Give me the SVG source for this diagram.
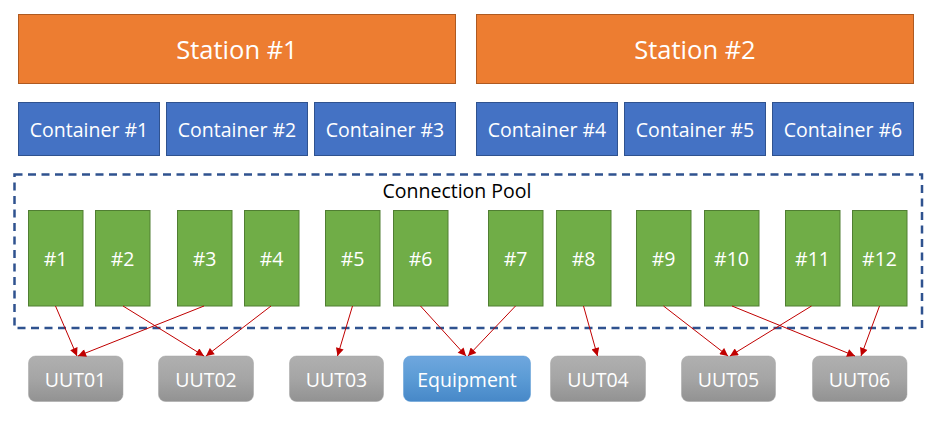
<svg xmlns="http://www.w3.org/2000/svg" width="938" height="426" viewBox="0 0 938 426">
<defs>
<linearGradient id="gGray" x1="0" y1="0" x2="0" y2="1"><stop offset="0" stop-color="#b0b0b0"/><stop offset="0.5" stop-color="#a5a5a5"/><stop offset="1" stop-color="#929292"/></linearGradient>
<linearGradient id="gBlue" x1="0" y1="0" x2="0" y2="1"><stop offset="0" stop-color="#6fa7de"/><stop offset="0.5" stop-color="#5b9bd5"/><stop offset="1" stop-color="#4788c8"/></linearGradient>
<marker id="arr" viewBox="0 0 10 10" refX="10" refY="5" markerWidth="9" markerHeight="8" markerUnits="userSpaceOnUse" orient="auto"><path d="M0,0 L10,5 L0,10 z" fill="#c00000"/></marker>
</defs>
<style>
text{font-family:"Open Sans","Noto Sans","Liberation Sans",sans-serif;text-anchor:middle;dominant-baseline:central;fill:#fff}
.st{fill:#ed7d31;stroke:#ae5a21;stroke-width:1}
.ct{fill:#4472c4;stroke:#2f528f;stroke-width:1}
.gr{fill:#70ad47;stroke:#507e32;stroke-width:1}
.uut{fill:url(#gGray);stroke:#a5a5a5;stroke-width:0.5}
.eq{fill:url(#gBlue);stroke:#5b9bd5;stroke-width:0.5}
.t22{font-size:25.5px}
.t18{font-size:19.5px}
.c{stroke:#c00000;stroke-width:1;fill:none;marker-end:url(#arr)}
</style>
<g id="station1"><rect class="st" x="18.5" y="14.5" width="437" height="69"/><text class="t22" x="237" y="49">Station #1</text></g>
<g id="station2"><rect class="st" x="476.5" y="14.5" width="437" height="69"/><text class="t22" x="695" y="49">Station #2</text></g>
<g id="container1"><rect class="ct" x="18.5" y="102.5" width="141" height="53"/><text class="t18" x="89" y="129">Container #1</text></g>
<g id="container2"><rect class="ct" x="166.5" y="102.5" width="141" height="53"/><text class="t18" x="237" y="129">Container #2</text></g>
<g id="container3"><rect class="ct" x="314.5" y="102.5" width="141" height="53"/><text class="t18" x="385" y="129">Container #3</text></g>
<g id="container4"><rect class="ct" x="476.5" y="102.5" width="141" height="53"/><text class="t18" x="547" y="129">Container #4</text></g>
<g id="container5"><rect class="ct" x="624.5" y="102.5" width="141" height="53"/><text class="t18" x="695" y="129">Container #5</text></g>
<g id="container6"><rect class="ct" x="772.5" y="102.5" width="141" height="53"/><text class="t18" x="843" y="129">Container #6</text></g>
<g id="pool"><rect x="14.5" y="174.5" width="907.5" height="153.5" fill="none" stroke="#2f528f" stroke-width="2.5" stroke-dasharray="8,5.5"/><text x="457" y="190" font-size="19.5px" style="fill:#000">Connection Pool</text></g>
<g id="c1"><rect class="gr" x="28.5" y="210.5" width="54.5" height="95.5"/><text class="t18" x="55.5" y="258">#1</text></g>
<g id="c2"><rect class="gr" x="95.5" y="210.5" width="54.5" height="95.5"/><text class="t18" x="122.5" y="258">#2</text></g>
<g id="c3"><rect class="gr" x="177.5" y="210.5" width="54.5" height="95.5"/><text class="t18" x="204.5" y="258">#3</text></g>
<g id="c4"><rect class="gr" x="244.5" y="210.5" width="54.5" height="95.5"/><text class="t18" x="271.5" y="258">#4</text></g>
<g id="c5"><rect class="gr" x="325.5" y="210.5" width="54.5" height="95.5"/><text class="t18" x="352.5" y="258">#5</text></g>
<g id="c6"><rect class="gr" x="393.5" y="210.5" width="54.5" height="95.5"/><text class="t18" x="420.5" y="258">#6</text></g>
<g id="c7"><rect class="gr" x="488.5" y="210.5" width="54.5" height="95.5"/><text class="t18" x="515.5" y="258">#7</text></g>
<g id="c8"><rect class="gr" x="556.5" y="210.5" width="54.5" height="95.5"/><text class="t18" x="583.5" y="258">#8</text></g>
<g id="c9"><rect class="gr" x="636.5" y="210.5" width="54.5" height="95.5"/><text class="t18" x="663.5" y="258">#9</text></g>
<g id="c10"><rect class="gr" x="704.5" y="210.5" width="54.5" height="95.5"/><text class="t18" x="731.5" y="258">#10</text></g>
<g id="c11"><rect class="gr" x="785.5" y="210.5" width="54.5" height="95.5"/><text class="t18" x="812.5" y="258">#11</text></g>
<g id="c12"><rect class="gr" x="852.5" y="210.5" width="54.5" height="95.5"/><text class="t18" x="879.5" y="258">#12</text></g>
<g id="uut01"><rect class="uut" x="28.5" y="356" width="94.5" height="45.5" rx="7"/><text class="t18" x="75.5" y="379">UUT01</text></g>
<g id="uut02"><rect class="uut" x="158.5" y="356" width="95" height="45.5" rx="7"/><text class="t18" x="206" y="379">UUT02</text></g>
<g id="uut03"><rect class="uut" x="289.5" y="356" width="94" height="45.5" rx="7"/><text class="t18" x="336.5" y="379">UUT03</text></g>
<g id="equipment"><rect class="eq" x="403.5" y="356" width="127" height="45.5" rx="7"/><text class="t18" x="467" y="379">Equipment</text></g>
<g id="uut04"><rect class="uut" x="550.5" y="356" width="95" height="45.5" rx="7"/><text class="t18" x="598" y="379">UUT04</text></g>
<g id="uut05"><rect class="uut" x="681.5" y="356" width="94" height="45.5" rx="7"/><text class="t18" x="728.5" y="379">UUT05</text></g>
<g id="uut06"><rect class="uut" x="812.5" y="356" width="94.5" height="45.5" rx="7"/><text class="t18" x="859.5" y="379">UUT06</text></g>
<g id="connectors">
<line class="c" x1="55.5" y1="306" x2="77" y2="356"/>
<line class="c" x1="123" y1="306" x2="204" y2="356"/>
<line class="c" x1="204" y1="306" x2="78" y2="356"/>
<line class="c" x1="271" y1="306" x2="206" y2="356"/>
<line class="c" x1="352.5" y1="306" x2="337.5" y2="356"/>
<line class="c" x1="420.5" y1="306" x2="466" y2="356"/>
<line class="c" x1="515.5" y1="306" x2="468" y2="356"/>
<line class="c" x1="583.5" y1="306" x2="597.5" y2="356"/>
<line class="c" x1="663.5" y1="306" x2="728" y2="356"/>
<line class="c" x1="732" y1="306" x2="855" y2="356"/>
<line class="c" x1="811.5" y1="306" x2="730" y2="356"/>
<line class="c" x1="879.5" y1="306" x2="861" y2="356"/>
</g>
</svg>
